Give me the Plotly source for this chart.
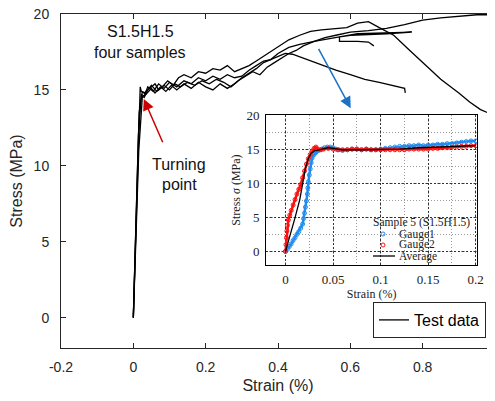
import plotly.graph_objects as go

# ---------------- main chart data: four samples (strain %, stress MPa) ----------------
s1_strain = [0, 0.005, 0.012, 0.019, 0.022, 0.03, 0.045, 0.06, 0.07, 0.085, 0.1, 0.115, 0.13, 0.15, 0.17,
             0.19, 0.21, 0.23, 0.25, 0.27, 0.29, 0.31, 0.33, 0.35, 0.37, 0.39, 0.41, 0.43, 0.45, 0.47,
             0.5, 0.53, 0.56, 0.6, 0.65, 0.7, 0.75, 0.8, 0.85, 0.9, 0.95, 1.0]
s1_stress = [0, 4, 10, 15.2, 14.9, 14.8, 15.1, 15.4, 15.0, 15.3, 15.0, 15.4, 15.2, 15.5, 15.3,
             15.6, 15.4, 15.7, 15.5, 15.2, 15.6, 15.9, 16.2, 16.0, 16.5, 16.8, 17.1, 17.4, 17.6, 17.9,
             18.2, 18.45, 18.6, 18.8, 18.9, 19.05, 19.3, 19.6, 19.75, 19.85, 19.95, 19.95]

s2_strain = [0, 0.008, 0.015, 0.025, 0.03, 0.04, 0.05, 0.065, 0.08, 0.095, 0.11, 0.125, 0.14, 0.16, 0.18,
             0.2, 0.22, 0.24, 0.26, 0.28, 0.3, 0.32, 0.34, 0.36, 0.38, 0.4, 0.43, 0.46, 0.49, 0.52,
             0.55, 0.59, 0.62, 0.65, 0.68, 0.72, 0.76, 0.8, 0.85, 0.9, 0.93, 0.96, 0.98, 1.0]
s2_stress = [0, 6, 11, 14.6, 14.5, 15.0, 15.3, 14.9, 15.2, 15.6, 15.3, 15.8, 16.0, 15.8, 16.2,
             16.1, 16.4, 16.3, 16.6, 16.2, 16.4, 16.6, 16.9, 17.2, 17.5, 17.8, 18.3, 18.6, 18.85, 18.95,
             19.0, 19.1, 19.4, 19.5, 19.1, 18.6, 17.7, 16.8, 15.7, 14.8, 14.2, 13.7, 13.5, 13.3]

s3_strain = [0, 0.006, 0.014, 0.022, 0.03, 0.04, 0.055, 0.07, 0.085, 0.1, 0.12, 0.14, 0.16, 0.18, 0.2,
             0.22, 0.24, 0.26, 0.28, 0.3, 0.32, 0.34, 0.36, 0.38, 0.4, 0.43, 0.46, 0.5, 0.53, 0.57,
             0.62, 0.7, 0.77, 0.7, 0.6, 0.57, 0.57, 0.62, 0.65, 0.665]
s3_stress = [0, 5, 12, 14.7, 14.6, 15.2, 14.9, 15.4, 15.1, 15.5, 15.2, 15.6, 15.4, 15.8, 15.6,
             15.9, 15.7, 16.0, 15.8, 15.9, 16.3, 16.6, 16.9, 17.0, 17.4, 17.8, 18.0, 18.2, 18.35, 18.5,
             18.7, 18.75, 18.8, 18.7, 18.6, 18.5, 18.2, 18.2, 18.15, 17.9]

s4_strain = [0, 0.004, 0.01, 0.016, 0.025, 0.035, 0.05, 0.06, 0.075, 0.09, 0.105, 0.12, 0.14, 0.16, 0.18,
             0.2, 0.22, 0.24, 0.26, 0.28, 0.3, 0.32, 0.34, 0.36, 0.38, 0.4, 0.42, 0.44, 0.48, 0.52,
             0.56, 0.6, 0.64, 0.68, 0.72, 0.75, 0.752]
s4_stress = [0, 3, 9, 13.5, 14.9, 14.7, 15.1, 14.8, 15.2, 14.9, 15.3, 15.0, 15.4, 15.1, 15.5,
             15.2, 15.0, 15.4, 15.1, 15.4, 15.8, 16.1, 16.4, 16.8, 17.0, 17.2, 17.4, 17.35, 17.0, 16.6,
             16.3, 16.0, 15.7, 15.5, 15.25, 15.1, 14.8]

# ---------------- inset data: sample 5 gauges ----------------
g1_strain = [0, 0.002, 0.004, 0.006, 0.008, 0.010, 0.012, 0.014, 0.016, 0.018, 0.019, 0.020, 0.021, 0.022,
             0.023, 0.0235, 0.024, 0.025, 0.026, 0.027, 0.028, 0.030, 0.032, 0.035, 0.038, 0.041, 0.044,
             0.047, 0.050, 0.053, 0.056, 0.06, 0.065, 0.07, 0.075, 0.08, 0.085, 0.09, 0.095, 0.1, 0.105,
             0.11, 0.115, 0.12, 0.125, 0.13, 0.135, 0.14, 0.145, 0.15, 0.155, 0.16, 0.165, 0.17, 0.175,
             0.18, 0.185, 0.19, 0.195, 0.2]
g1_stress = [0, 0.3, 0.7, 1.1, 1.6, 2.0, 2.5, 2.9, 3.4, 4.0, 4.8, 5.6, 6.5, 7.4,
             8.4, 9.3, 10.2, 11.2, 12.1, 13.0, 13.7, 14.2, 14.5, 14.8, 15.0, 15.2, 15.3,
             15.3, 15.2, 15.0, 14.9, 14.8, 14.9, 15.0, 15.0, 14.9, 15.0, 14.9, 14.9, 15.0, 15.1,
             15.2, 15.3, 15.4, 15.4, 15.5, 15.5, 15.6, 15.5, 15.6, 15.6, 15.7, 15.7, 15.8, 15.8,
             15.9, 16.0, 16.1, 16.2, 16.2]

g2_strain = [0, 0.0005, 0.001, 0.0015, 0.002, 0.003, 0.0045, 0.006, 0.008, 0.010, 0.012, 0.014, 0.016,
             0.018, 0.020, 0.022, 0.024, 0.026, 0.028, 0.030, 0.032, 0.034, 0.037, 0.04, 0.045, 0.05,
             0.055, 0.06, 0.065, 0.07, 0.075, 0.08, 0.085, 0.09, 0.095, 0.1, 0.105, 0.11, 0.115, 0.12,
             0.125, 0.13, 0.135, 0.14, 0.145, 0.15, 0.155, 0.16, 0.165, 0.17, 0.175, 0.18, 0.185, 0.19,
             0.195, 0.2]
g2_stress = [0, 1.0, 2.0, 3.0, 3.8, 4.6, 5.3, 6.0, 6.8, 7.6, 8.4, 9.1, 9.8,
             10.8, 11.8, 12.8, 13.6, 14.2, 14.7, 15.1, 15.3, 15.0, 14.9, 15.0, 15.1, 15.0,
             14.9, 14.9, 14.9, 15.0, 15.0, 14.9, 15.0, 14.9, 14.9, 14.9, 14.9, 14.9, 14.9, 14.9,
             14.9, 15.0, 15.0, 15.0, 15.0, 15.0, 15.1, 15.1, 15.2, 15.2, 15.3, 15.3, 15.4, 15.4,
             15.5, 15.5]

avg_strain = [0, 0.005, 0.01, 0.015, 0.018, 0.021, 0.024, 0.027, 0.03, 0.035, 0.04, 0.045, 0.05, 0.06,
              0.08, 0.1, 0.12, 0.14, 0.16, 0.18, 0.2]
avg_stress = [0, 2.4, 4.9, 7.6, 10.2, 12.2, 13.6, 14.4, 14.7, 14.9, 15.1, 15.2, 15.1, 14.9,
              14.9, 14.9, 15.0, 15.2, 15.3, 15.4, 15.5]

main_x_ticks = [-0.2, 0, 0.2, 0.4, 0.6, 0.8, 1]
main_x_text = ["-0.2", "0", "0.2", "0.4", "0.6", "0.8", "1"]
main_y_ticks = [0, 5, 10, 15, 20]
inset_x_ticks = [0, 0.05, 0.1, 0.15, 0.2]
inset_x_text = ["0", "0.05", "0.1", "0.15", "0.2"]
inset_y_ticks = [0, 5, 10, 15, 20]

SANS = "Liberation Sans, Arial, sans-serif"
SERIF = "Liberation Serif, Times New Roman, serif"
AXC = "#262626"
BLUE = "#1e8cf0"
RED = "#ff1010"

fig = go.Figure()

samples = [(s1_strain, s1_stress), (s2_strain, s2_stress), (s3_strain, s3_stress), (s4_strain, s4_stress)]
for i, (sx, sy) in enumerate(samples):
    fig.add_trace(go.Scatter(x=sx, y=sy, mode="lines", line=dict(color="black", width=1.3),
                             name="Test data", showlegend=(i == 0), xaxis="x", yaxis="y"))

# inset traces
fig.add_trace(go.Scatter(x=g1_strain, y=g1_stress, mode="lines+markers", xaxis="x3", yaxis="y3",
                         line=dict(color=BLUE, width=2.5),
                         marker=dict(symbol="circle-open", size=4, color=BLUE, line=dict(width=1)),
                         showlegend=False, name="Gauge1"))
fig.add_trace(go.Scatter(x=g2_strain, y=g2_stress, mode="lines+markers", xaxis="x3", yaxis="y3",
                         line=dict(color=RED, width=2.5),
                         marker=dict(symbol="circle-open", size=4, color=RED, line=dict(width=1)),
                         showlegend=False, name="Gauge2"))
fig.add_trace(go.Scatter(x=avg_strain, y=avg_stress, mode="lines", xaxis="x3", yaxis="y3",
                         line=dict(color="black", width=1.3), showlegend=False, name="Average"))

# the page body has an 8px margin, so the figure is sized / placed to land where the reference is
OFF = 8
W, H = 495 - OFF, 401 - OFF
ML, MR, MT, MB = 61 - OFF, 0, 14 - OFF, H - (348 - OFF)
PW, PH = W - ML - MR, H - MT - MB


def px(xp):
    return (xp - OFF - ML) / PW


def py(yp):
    return (H - MB - (yp - OFF)) / PH


fig.update_layout(
    width=W, height=H,
    margin=dict(l=ML, r=MR, t=MT, b=MB, pad=0, autoexpand=False),
    paper_bgcolor="white", plot_bgcolor="white",
    font=dict(family=SANS, color=AXC),
    xaxis=dict(range=[-0.2, 1.0], tickvals=main_x_ticks, ticktext=main_x_text, automargin=False,
               ticklabeloverflow="allow",
               ticks="inside", ticklen=5, tickcolor=AXC, showline=True, linecolor=AXC, linewidth=1,
               mirror="ticks", showgrid=False, zeroline=False,
               tickfont=dict(family=SANS, size=14, color=AXC), ticklabelstandoff=6,
               title=dict(text="Strain (%)", font=dict(family=SANS, size=16, color=AXC), standoff=6)),
    yaxis=dict(range=[-2, 20], tickvals=main_y_ticks, ticks="inside", ticklen=5, tickcolor=AXC,
               automargin=False, ticklabeloverflow="allow",
               showline=True, linecolor=AXC, linewidth=1, mirror=False, showgrid=False, zeroline=False,
               tickfont=dict(family=SANS, size=14, color=AXC), ticklabelstandoff=8,
               title=dict(text="Stress (MPa)", font=dict(family=SANS, size=16, color=AXC), standoff=12)),
    yaxis2=dict(range=[-2, 20], tickvals=main_y_ticks, overlaying="y", side="right", anchor="x",
                automargin=False,
                ticks="inside", ticklen=5, tickcolor=AXC, showline=False, showgrid=False,
                zeroline=False, showticklabels=False),
    xaxis3=dict(domain=[px(266), px(477.3)], anchor="y3", range=[-0.0205, 0.2017], automargin=False,
                tickvals=inset_x_ticks, ticktext=inset_x_text, ticks="", showline=True,
                linecolor="black", linewidth=1, mirror=True, zeroline=False,
                showgrid=True, gridcolor="#333333", griddash="2px,2px", gridwidth=1,
                minor=dict(dtick=0.025, tick0=0, showgrid=True, gridcolor="#9a9a9a", griddash="1px,2px", gridwidth=1),
                tickfont=dict(family=SERIF, size=13, color="#222"), ticklabelstandoff=2,
                title=dict(text="Strain (%)", font=dict(family=SERIF, size=12, color="#222"), standoff=2)),
    yaxis3=dict(domain=[py(265), py(115)], anchor="x3", range=[-2, 20], automargin=False,
                tickvals=inset_y_ticks, ticks="", showline=True, linecolor="black", linewidth=1,
                mirror=True, zeroline=False,
                showgrid=True, gridcolor="#333333", griddash="2px,2px", gridwidth=1,
                minor=dict(dtick=2.5, tick0=0, showgrid=True, gridcolor="#9a9a9a", griddash="1px,2px", gridwidth=1),
                tickfont=dict(family=SERIF, size=13, color="#222"), ticklabelstandoff=3,
                title=dict(text="Stress <i>σ</i> (MPa)", font=dict(family=SERIF, size=12, color="#222"), standoff=3)),
    legend=dict(x=px(486), xanchor="right", y=py(338), yanchor="bottom",
                bgcolor="white", bordercolor=AXC, borderwidth=1,
                font=dict(family=SANS, size=16, color="black"), tracegroupgap=0),
    showlegend=True,
)

annotations = [
    dict(text="S1.5H1.5", x=px(140), y=py(32), xref="paper", yref="paper", showarrow=False,
         font=dict(family=SANS, size=16, color="#111"), xanchor="center", yanchor="middle"),
    dict(text="four samples", x=px(140), y=py(53), xref="paper", yref="paper", showarrow=False,
         font=dict(family=SANS, size=16, color="#111"), xanchor="center", yanchor="middle"),
    dict(text="Turning", x=px(179), y=py(165), xref="paper", yref="paper", showarrow=False,
         font=dict(family=SANS, size=16, color="#111"), xanchor="center", yanchor="middle"),
    dict(text="point", x=px(179), y=py(184), xref="paper", yref="paper", showarrow=False,
         font=dict(family=SANS, size=16, color="#111"), xanchor="center", yanchor="middle"),
    # red arrow
    dict(text="", x=0.029, y=14.4, ax=0.083, ay=11.45, xref="x", yref="y", axref="x", ayref="y",
         showarrow=True, arrowhead=2, arrowsize=1.5, arrowwidth=1.5, arrowcolor="#cc0000"),
    # blue arrow
    dict(text="", x=0.601, y=13.8, ax=0.51, ay=17.8, xref="x", yref="y", axref="x", ayref="y",
         showarrow=True, arrowhead=2, arrowsize=1.5, arrowwidth=1.5, arrowcolor="#1a72c4"),
    # inset legend (manual)
    dict(text="Sample 5 (S1.5H1.5)", x=px(371), y=py(222), xref="paper", yref="paper", showarrow=False,
         font=dict(family=SERIF, size=11.5, color="#222"), xanchor="left", yanchor="middle"),
    dict(text="Gauge1", x=px(397), y=py(234), xref="paper", yref="paper", showarrow=False,
         font=dict(family=SERIF, size=11.5, color="#222"), xanchor="left", yanchor="middle"),
    dict(text="Gauge2", x=px(397), y=py(245), xref="paper", yref="paper", showarrow=False,
         font=dict(family=SERIF, size=11.5, color="#222"), xanchor="left", yanchor="middle"),
    dict(text="Average", x=px(397), y=py(256), xref="paper", yref="paper", showarrow=False,
         font=dict(family=SERIF, size=11.5, color="#222"), xanchor="left", yanchor="middle"),
]
fig.update_layout(annotations=annotations)

shapes = [
    dict(type="circle", xref="paper", yref="paper", x0=px(381), x1=px(385), y0=py(236), y1=py(232),
         line=dict(color=BLUE, width=1)),
    dict(type="circle", xref="paper", yref="paper", x0=px(381), x1=px(385), y0=py(247), y1=py(243),
         line=dict(color=RED, width=1)),
    dict(type="line", xref="paper", yref="paper", x0=px(373), x1=px(395), y0=py(256), y1=py(256),
         line=dict(color="black", width=1.3)),
]
fig.update_layout(shapes=shapes)

fig.write_html("out.html")
